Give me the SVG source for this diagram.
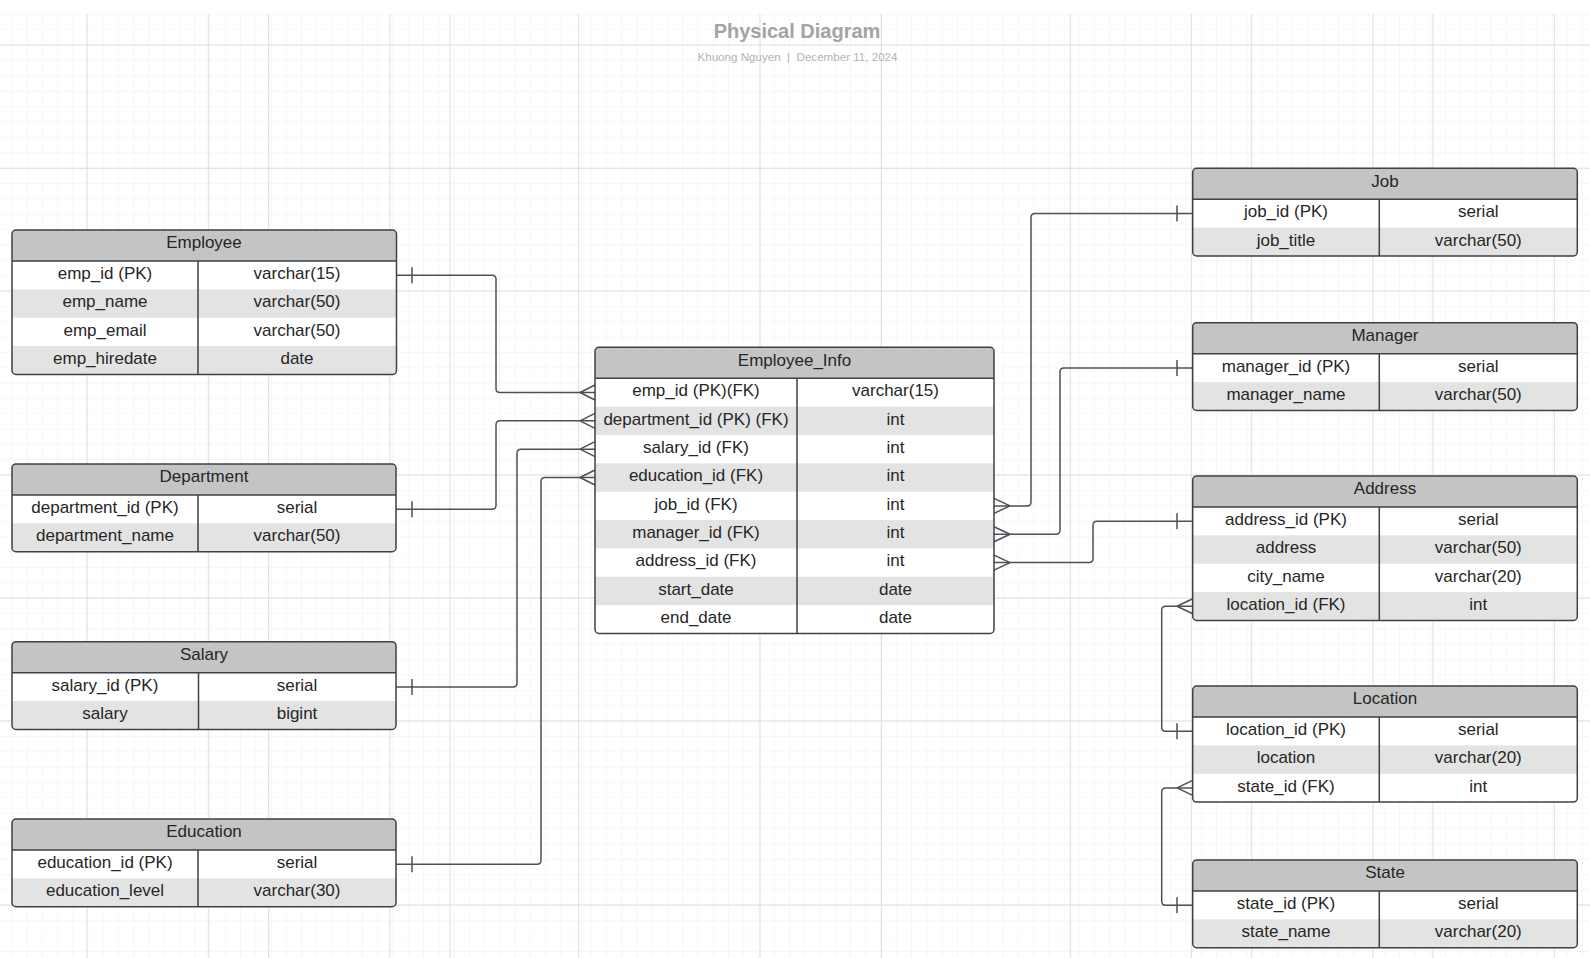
<svg xmlns="http://www.w3.org/2000/svg" width="1590" height="958" viewBox="0 0 1590 958">
<style>
.hdr{fill:#c4c4c4}
.alt{fill:#e3e3e3}
.bg{fill:#ffffff}
.border{fill:none;stroke:#3e4146;stroke-width:1.5}
.sep{stroke:#3e4146;stroke-width:1.5}
.txt{font-family:"Liberation Sans",Arial,sans-serif;font-size:17px;fill:#262626;text-anchor:middle;transform:translateY(-1.2px)}
.conn{fill:none;stroke:#4d5056;stroke-width:1.5}
.major{stroke:#dedede;stroke-width:1}
</style>
<defs>
<pattern id="minor" x="11.3" y="14" width="15.25" height="15.36" patternUnits="userSpaceOnUse">
<path d="M0 0V15.36M0 0H15.25" fill="none" stroke="#efefef" stroke-width="1"/>
</pattern>
<clipPath id="c-emp"><rect x="12" y="230" width="384.5" height="144.4" rx="4"/></clipPath>
<clipPath id="c-dep"><rect x="12" y="464" width="384" height="87.7" rx="4"/></clipPath>
<clipPath id="c-sal"><rect x="12" y="641.7" width="384" height="87.7" rx="4"/></clipPath>
<clipPath id="c-edu"><rect x="12" y="819" width="384" height="87.7" rx="4"/></clipPath>
<clipPath id="c-ei"><rect x="595" y="347.3" width="399" height="286.2" rx="4"/></clipPath>
<clipPath id="c-job"><rect x="1192.7" y="168.3" width="384.6" height="87.7" rx="4"/></clipPath>
<clipPath id="c-man"><rect x="1192.7" y="322.7" width="384.6" height="87.7" rx="4"/></clipPath>
<clipPath id="c-adr"><rect x="1192.7" y="476" width="384.6" height="144.4" rx="4"/></clipPath>
<clipPath id="c-loc"><rect x="1192.7" y="686" width="384.6" height="116.05" rx="4"/></clipPath>
<clipPath id="c-sta"><rect x="1192.7" y="860" width="384.6" height="87.7" rx="4"/></clipPath>
</defs>
<rect width="1590" height="958" fill="#ffffff"/>
<g id="grid">
<rect x="0" y="14" width="1590" height="944" fill="url(#minor)"/>
<path class="major" d="M87 14V958M208.3 14V958M268.7 14V958M390 14V958M450 14V958M578.7 14V958M760 14V958M881.3 14V958M1070.3 14V958M1191.3 14V958M1251.7 14V958M1373 14V958M1433 14V958M1554.3 14V958M0 45H1590M0 168.3H1590M0 291H1590M0 475H1590M0 598H1590M0 721H1590M0 905H1590"/>
</g>
<g id="title">
<text x="797" y="38" style="font-family:'Liberation Sans',Arial,sans-serif;font-size:20px;font-weight:bold;fill:#a3a3a3;text-anchor:middle">Physical Diagram</text>
<text x="797.5" y="61" style="font-family:'Liberation Sans',Arial,sans-serif;font-size:11.6px;fill:#b3b3b3;text-anchor:middle" xml:space="preserve">Khuong Nguyen  |  December 11, 2024</text>
</g>
<g id="connectors">
<path class="conn" d="M396.5 275.2H492Q496 275.2 496 279.2V388.5Q496 392.5 500 392.5H595"/>
<path class="conn" d="M396 509.2H492Q496 509.2 496 505.2V424.8Q496 420.8 500 420.8H595"/>
<path class="conn" d="M396 686.9H513Q517 686.9 517 682.9V453.2Q517 449.2 521 449.2H595"/>
<path class="conn" d="M396 864.2H537Q541 864.2 541 860.2V481.5Q541 477.5 545 477.5H595"/>
<path class="conn" d="M994 505.9H1027Q1031 505.9 1031 501.9V217.5Q1031 213.5 1035 213.5H1192.7"/>
<path class="conn" d="M994 534.2H1056Q1060 534.2 1060 530.2V371.9Q1060 367.9 1064 367.9H1192.7"/>
<path class="conn" d="M994 562.6H1089Q1093 562.6 1093 558.6V525.2Q1093 521.2 1097 521.2H1192.7"/>
<path class="conn" d="M1192.7 606.2H1165.7Q1161.7 606.2 1161.7 610.2V727.2Q1161.7 731.2 1165.7 731.2H1192.7"/>
<path class="conn" d="M1192.7 787.9H1165.7Q1161.7 787.9 1161.7 791.9V901.2Q1161.7 905.2 1165.7 905.2H1192.7"/>
<path class="conn" d="M412 267.2V283.2M412 501.2V517.2M412 678.9V694.9M412 856.2V872.2M1177 205.5V221.5M1177 359.9V375.9M1177 513.2V529.2M1177 723.2V739.2M1177 897.2V913.2"/>
<path class="conn" d="M580 392.5L595 385M580 392.5L595 400M580 420.8L595 413.3M580 420.8L595 428.3M580 449.2L595 441.7M580 449.2L595 456.7M580 477.5L595 470M580 477.5L595 485"/>
<path class="conn" d="M1010 505.9L994 498.4M1010 505.9L994 513.4M1010 534.2L994 526.7M1010 534.2L994 541.7M1010 562.6L994 555.1M1010 562.6L994 570.1"/>
<path class="conn" d="M1177 606.2L1192.7 598.7M1177 606.2L1192.7 613.7M1177 787.9L1192.7 780.4M1177 787.9L1192.7 795.4"/>
</g>
<g id="employee">
<g clip-path="url(#c-emp)">
<rect class="bg" x="12" y="230" width="384.5" height="144.4"/>
<rect class="hdr" x="12" y="230" width="384.5" height="31"/>
<rect class="alt" x="12" y="289.35" width="384.5" height="28.35"/>
<rect class="alt" x="12" y="346.05" width="384.5" height="28.35"/>
</g>
<path class="sep" d="M12 261H396.5M198 261V374.4"/>
<rect class="border" x="12" y="230" width="384.5" height="144.4" rx="4"/>
<text class="txt" x="204" y="249.5">Employee</text>
<text class="txt" x="105" y="280.2">emp_id (PK)</text><text class="txt" x="297" y="280.2">varchar(15)</text>
<text class="txt" x="105" y="308.5">emp_name</text><text class="txt" x="297" y="308.5">varchar(50)</text>
<text class="txt" x="105" y="336.9">emp_email</text><text class="txt" x="297" y="336.9">varchar(50)</text>
<text class="txt" x="105" y="365.2">emp_hiredate</text><text class="txt" x="297" y="365.2">date</text>
</g>
<g id="department">
<g clip-path="url(#c-dep)">
<rect class="bg" x="12" y="464" width="384" height="87.7"/>
<rect class="hdr" x="12" y="464" width="384" height="31"/>
<rect class="alt" x="12" y="523.35" width="384" height="28.35"/>
</g>
<path class="sep" d="M12 495H396M198 495V551.7"/>
<rect class="border" x="12" y="464" width="384" height="87.7" rx="4"/>
<text class="txt" x="204" y="483.5">Department</text>
<text class="txt" x="105" y="514.2">department_id (PK)</text><text class="txt" x="297" y="514.2">serial</text>
<text class="txt" x="105" y="542.5">department_name</text><text class="txt" x="297" y="542.5">varchar(50)</text>
</g>
<g id="salary">
<g clip-path="url(#c-sal)">
<rect class="bg" x="12" y="641.7" width="384" height="87.7"/>
<rect class="hdr" x="12" y="641.7" width="384" height="31"/>
<rect class="alt" x="12" y="701.05" width="384" height="28.35"/>
</g>
<path class="sep" d="M12 672.7H396M198.5 672.7V729.4"/>
<rect class="border" x="12" y="641.7" width="384" height="87.7" rx="4"/>
<text class="txt" x="204" y="661.2">Salary</text>
<text class="txt" x="105" y="691.9">salary_id (PK)</text><text class="txt" x="297" y="691.9">serial</text>
<text class="txt" x="105" y="720.2">salary</text><text class="txt" x="297" y="720.2">bigint</text>
</g>
<g id="education">
<g clip-path="url(#c-edu)">
<rect class="bg" x="12" y="819" width="384" height="87.7"/>
<rect class="hdr" x="12" y="819" width="384" height="31"/>
<rect class="alt" x="12" y="878.35" width="384" height="28.35"/>
</g>
<path class="sep" d="M12 850H396M198 850V906.7"/>
<rect class="border" x="12" y="819" width="384" height="87.7" rx="4"/>
<text class="txt" x="204" y="838.5">Education</text>
<text class="txt" x="105" y="869.2">education_id (PK)</text><text class="txt" x="297" y="869.2">serial</text>
<text class="txt" x="105" y="897.5">education_level</text><text class="txt" x="297" y="897.5">varchar(30)</text>
</g>
<g id="employee_info">
<g clip-path="url(#c-ei)">
<rect class="bg" x="595" y="347.3" width="399" height="286.2"/>
<rect class="hdr" x="595" y="347.3" width="399" height="31"/>
<rect class="alt" x="595" y="406.65" width="399" height="28.35"/>
<rect class="alt" x="595" y="463.35" width="399" height="28.35"/>
<rect class="alt" x="595" y="520.05" width="399" height="28.35"/>
<rect class="alt" x="595" y="576.75" width="399" height="28.35"/>
</g>
<path class="sep" d="M595 378.3H994M797 378.3V633.5"/>
<rect class="border" x="595" y="347.3" width="399" height="286.2" rx="4"/>
<text class="txt" x="794.5" y="366.8">Employee_Info</text>
<text class="txt" x="696" y="397.5">emp_id (PK)(FK)</text><text class="txt" x="895.5" y="397.5">varchar(15)</text>
<text class="txt" x="696" y="425.8">department_id (PK) (FK)</text><text class="txt" x="895.5" y="425.8">int</text>
<text class="txt" x="696" y="454.2">salary_id (FK)</text><text class="txt" x="895.5" y="454.2">int</text>
<text class="txt" x="696" y="482.5">education_id (FK)</text><text class="txt" x="895.5" y="482.5">int</text>
<text class="txt" x="696" y="510.9">job_id (FK)</text><text class="txt" x="895.5" y="510.9">int</text>
<text class="txt" x="696" y="539.2">manager_id (FK)</text><text class="txt" x="895.5" y="539.2">int</text>
<text class="txt" x="696" y="567.6">address_id (FK)</text><text class="txt" x="895.5" y="567.6">int</text>
<text class="txt" x="696" y="595.9">start_date</text><text class="txt" x="895.5" y="595.9">date</text>
<text class="txt" x="696" y="624.3">end_date</text><text class="txt" x="895.5" y="624.3">date</text>
</g>
<g id="job">
<g clip-path="url(#c-job)">
<rect class="bg" x="1192.7" y="168.3" width="384.6" height="87.7"/>
<rect class="hdr" x="1192.7" y="168.3" width="384.6" height="31"/>
<rect class="alt" x="1192.7" y="227.65" width="384.6" height="28.35"/>
</g>
<path class="sep" d="M1192.7 199.3H1577.3M1379.3 199.3V256"/>
<rect class="border" x="1192.7" y="168.3" width="384.6" height="87.7" rx="4"/>
<text class="txt" x="1385" y="187.8">Job</text>
<text class="txt" x="1286" y="218.5">job_id (PK)</text><text class="txt" x="1478.3" y="218.5">serial</text>
<text class="txt" x="1286" y="246.8">job_title</text><text class="txt" x="1478.3" y="246.8">varchar(50)</text>
</g>
<g id="manager">
<g clip-path="url(#c-man)">
<rect class="bg" x="1192.7" y="322.7" width="384.6" height="87.7"/>
<rect class="hdr" x="1192.7" y="322.7" width="384.6" height="31"/>
<rect class="alt" x="1192.7" y="382.05" width="384.6" height="28.35"/>
</g>
<path class="sep" d="M1192.7 353.7H1577.3M1379.3 353.7V410.4"/>
<rect class="border" x="1192.7" y="322.7" width="384.6" height="87.7" rx="4"/>
<text class="txt" x="1385" y="342.2">Manager</text>
<text class="txt" x="1286" y="372.9">manager_id (PK)</text><text class="txt" x="1478.3" y="372.9">serial</text>
<text class="txt" x="1286" y="401.2">manager_name</text><text class="txt" x="1478.3" y="401.2">varchar(50)</text>
</g>
<g id="address">
<g clip-path="url(#c-adr)">
<rect class="bg" x="1192.7" y="476" width="384.6" height="144.4"/>
<rect class="hdr" x="1192.7" y="476" width="384.6" height="31"/>
<rect class="alt" x="1192.7" y="535.35" width="384.6" height="28.35"/>
<rect class="alt" x="1192.7" y="592.05" width="384.6" height="28.35"/>
</g>
<path class="sep" d="M1192.7 507H1577.3M1379.3 507V620.4"/>
<rect class="border" x="1192.7" y="476" width="384.6" height="144.4" rx="4"/>
<text class="txt" x="1385" y="495.5">Address</text>
<text class="txt" x="1286" y="526.2">address_id (PK)</text><text class="txt" x="1478.3" y="526.2">serial</text>
<text class="txt" x="1286" y="554.5">address</text><text class="txt" x="1478.3" y="554.5">varchar(50)</text>
<text class="txt" x="1286" y="582.9">city_name</text><text class="txt" x="1478.3" y="582.9">varchar(20)</text>
<text class="txt" x="1286" y="611.2">location_id (FK)</text><text class="txt" x="1478.3" y="611.2">int</text>
</g>
<g id="location">
<g clip-path="url(#c-loc)">
<rect class="bg" x="1192.7" y="686" width="384.6" height="116.05"/>
<rect class="hdr" x="1192.7" y="686" width="384.6" height="31"/>
<rect class="alt" x="1192.7" y="745.35" width="384.6" height="28.35"/>
</g>
<path class="sep" d="M1192.7 717H1577.3M1379.3 717V802.05"/>
<rect class="border" x="1192.7" y="686" width="384.6" height="116.05" rx="4"/>
<text class="txt" x="1385" y="705.5">Location</text>
<text class="txt" x="1286" y="736.2">location_id (PK)</text><text class="txt" x="1478.3" y="736.2">serial</text>
<text class="txt" x="1286" y="764.5">location</text><text class="txt" x="1478.3" y="764.5">varchar(20)</text>
<text class="txt" x="1286" y="792.9">state_id (FK)</text><text class="txt" x="1478.3" y="792.9">int</text>
</g>
<g id="state">
<g clip-path="url(#c-sta)">
<rect class="bg" x="1192.7" y="860" width="384.6" height="87.7"/>
<rect class="hdr" x="1192.7" y="860" width="384.6" height="31"/>
<rect class="alt" x="1192.7" y="919.35" width="384.6" height="28.35"/>
</g>
<path class="sep" d="M1192.7 891H1577.3M1379.3 891V947.7"/>
<rect class="border" x="1192.7" y="860" width="384.6" height="87.7" rx="4"/>
<text class="txt" x="1385" y="879.5">State</text>
<text class="txt" x="1286" y="910.2">state_id (PK)</text><text class="txt" x="1478.3" y="910.2">serial</text>
<text class="txt" x="1286" y="938.5">state_name</text><text class="txt" x="1478.3" y="938.5">varchar(20)</text>
</g>
</svg>
